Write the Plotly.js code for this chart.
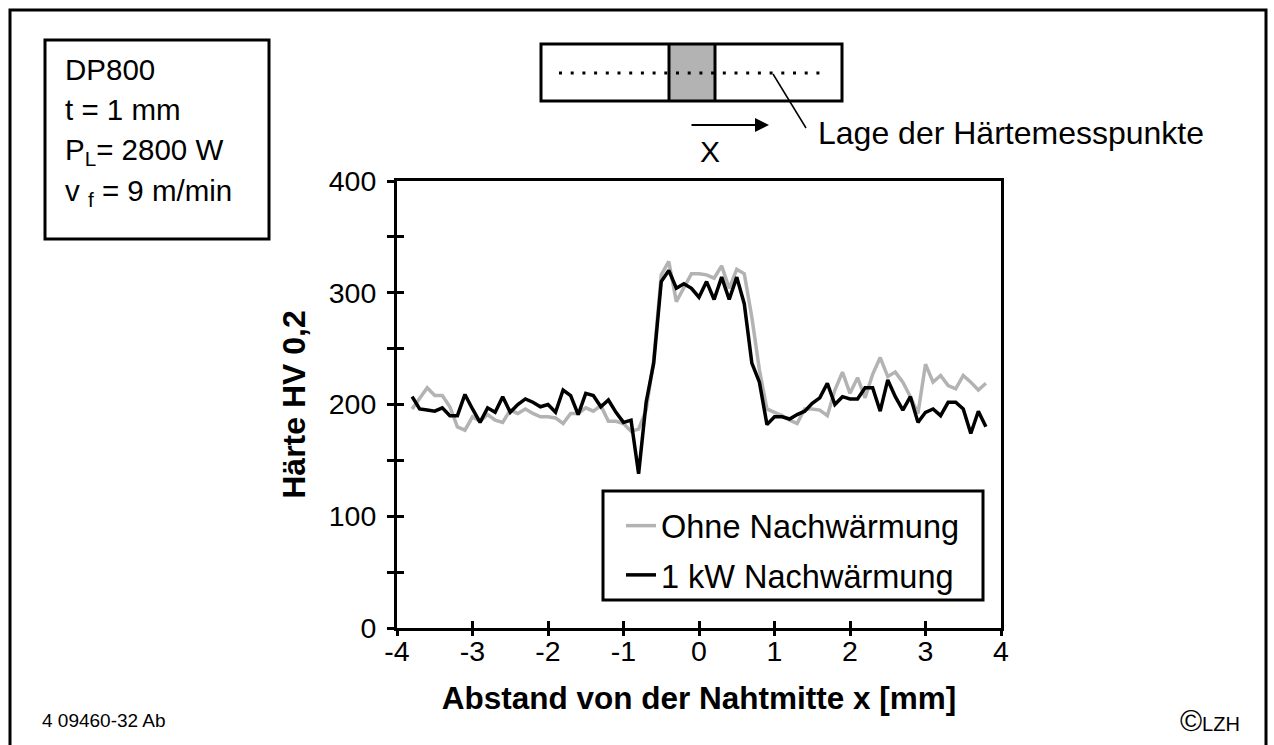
<!DOCTYPE html>
<html>
<head>
<meta charset="utf-8">
<script src="https://cdn.plot.ly/plotly-3.0.1.min.js"></script>
<style>html,body{margin:0;padding:0;background:#fff;}#chart{width:1274px;height:745px;}</style>
</head>
<body>
<div id="chart"></div>
<script>
// ---- data ----
const xPositions = [-3.8,-3.7,-3.6,-3.5,-3.4,-3.3,-3.2,-3.1,-3.0,-2.9,-2.8,-2.7,-2.6,-2.5,-2.4,-2.3,-2.2,-2.1,-2.0,-1.9,-1.8,-1.7,-1.6,-1.5,-1.4,-1.3,-1.2,-1.1,-1.0,-0.9,-0.8,-0.7,-0.6,-0.5,-0.4,-0.3,-0.2,-0.1,0.0,0.1,0.2,0.3,0.4,0.5,0.6,0.7,0.8,0.9,1.0,1.1,1.2,1.3,1.4,1.5,1.6,1.7,1.8,1.9,2.0,2.1,2.2,2.3,2.4,2.5,2.6,2.7,2.8,2.9,3.0,3.1,3.2,3.3,3.4,3.5,3.6,3.7,3.8];
const ohneNachwaermung = [196,205,215,208,208,198,180,177,189,185,191,186,184,195,192,196,192,189,189,188,183,192,192,197,194,199,185,185,183,176,178,195,240,316,328,292,305,317,317,316,313,324,304,321,317,278,231,196,193,190,186,183,196,196,195,190,213,229,210,224,206,227,242,225,229,220,207,192,236,220,226,217,214,226,220,213,219];
const einKwNachwaermung = [207,196,195,194,197,190,190,209,196,184,197,193,207,193,200,205,202,198,200,193,213,208,191,210,208,198,204,193,184,186,138,202,237,310,320,304,308,304,296,310,294,314,294,314,290,237,220,182,189,189,187,191,194,201,206,219,200,207,205,205,215,215,194,222,207,195,207,184,193,196,190,202,202,196,174,194,180];
const seriesNames = ["Ohne Nachwärmung", "1 kW Nachwärmung"];
const xTickVals = [-4,-3,-2,-1,0,1,2,3,4];
const xTickText = ["-4","-3","-2","-1","0","1","2","3","4"];
const yTickVals = [0,50,100,150,200,250,300,350,400];
const yTickText = ["0","","100","","200","","300","","400"];
const infoLines = ["DP800", "t = 1 mm", "P<sub>L</sub>= 2800 W", "v <sub>f</sub> = 9 m/min"];

// ---- layout helpers (pixel -> paper) ----
const PL = 397, PR = 1001, PT = 181, PB = 628;
const X = px => (px - PL) / (PR - PL);
const Y = py => (PB - py) / (PB - PT);
const FONT = "Liberation Sans, Arial, sans-serif";

const traces = [
  {x: xPositions, y: ohneNachwaermung, name: seriesNames[0], type: "scatter", mode: "lines",
   line: {color: "#b3b3b3", width: 3.5}, legendgroup: "a"},
  {x: xPositions, y: einKwNachwaermung, name: seriesNames[1], type: "scatter", mode: "lines",
   line: {color: "#000000", width: 3.5}, legendgroup: "b"},
  {x: [], y: [], xaxis: "x2", yaxis: "y2", showlegend: false, hoverinfo: "skip"}
];

const shapes = [
  // outer frame
  {type: "rect", xref: "paper", yref: "paper", x0: X(10), x1: X(1266), y0: Y(10), y1: Y(770), line: {color: "#000", width: 3}},
  // info box
  {type: "rect", xref: "paper", yref: "paper", x0: X(45), x1: X(269), y0: Y(40), y1: Y(239), line: {color: "#000", width: 3}},
  // legend box
  {type: "rect", xref: "paper", yref: "paper", x0: X(603), x1: X(983), y0: Y(491), y1: Y(600), fillcolor: "#fff", line: {color: "#000", width: 3}, layer: "above"},
  // seam sketch
  {type: "rect", xref: "paper", yref: "paper", x0: X(669), x1: X(715), y0: Y(44), y1: Y(101), fillcolor: "#b3b3b3", line: {width: 0}},
  {type: "rect", xref: "paper", yref: "paper", x0: X(541), x1: X(842), y0: Y(44), y1: Y(101), line: {color: "#000", width: 3}},
  {type: "line", xref: "paper", yref: "paper", x0: X(669), x1: X(669), y0: Y(44), y1: Y(101), line: {color: "#000", width: 3}},
  {type: "line", xref: "paper", yref: "paper", x0: X(715), x1: X(715), y0: Y(44), y1: Y(101), line: {color: "#000", width: 3}},
  {type: "line", xref: "paper", yref: "paper", x0: X(559), x1: X(821), y0: Y(73), y1: Y(73), line: {color: "#000", width: 3, dash: "3px,8.7px"}},
  {type: "line", xref: "paper", yref: "paper", x0: X(773), x1: X(806), y0: Y(74), y1: Y(128), line: {color: "#000", width: 1.5}}
];

const annotations = [];
const infoY = [69, 109, 151, 192];
infoLines.forEach((t, i) => annotations.push({xref: "paper", yref: "paper", x: X(63), y: Y(infoY[i]), xanchor: "left", yanchor: "middle",
  text: t, showarrow: false, font: {family: FONT, size: 29.5, color: "#000"}}));
annotations.push(
  {xref: "paper", yref: "paper", x: X(769), y: Y(125), ax: X(690), ay: Y(125), axref: "paper", ayref: "paper",
   text: "", showarrow: true, arrowhead: 2, arrowsize: 1.4, arrowwidth: 2, arrowcolor: "#000"},
  {xref: "paper", yref: "paper", x: X(710), y: Y(152), xanchor: "center", yanchor: "middle", text: "X", showarrow: false,
   font: {family: FONT, size: 30, color: "#000"}},
  {xref: "paper", yref: "paper", x: X(816), y: Y(133), xanchor: "left", yanchor: "middle", text: "Lage der Härtemesspunkte", showarrow: false,
   font: {family: FONT, size: 32, color: "#000"}},
  {xref: "paper", yref: "paper", x: X(40), y: Y(720), xanchor: "left", yanchor: "middle", text: "4 09460-32 Ab", showarrow: false,
   font: {family: FONT, size: 19, color: "#000"}},
  {xref: "paper", yref: "paper", x: X(1178), y: Y(720), xanchor: "left", yanchor: "middle", text: "<span style='font-size:30px'>©</span>LZH", showarrow: false,
   font: {family: FONT, size: 20, color: "#000"}}
);

const layout = {
  width: 1274, height: 745,
  margin: {l: PL, r: 1274 - PR, t: PT, b: 745 - PB, pad: 0},
  paper_bgcolor: "#fff", plot_bgcolor: "#fff",
  font: {family: FONT, color: "#000"},
  showlegend: true,
  legend: {x: X(621), y: Y(498), xanchor: "left", yanchor: "top", bgcolor: "rgba(0,0,0,0)", borderwidth: 0,
           font: {family: FONT, size: 32.5, color: "#000"}, tracegroupgap: 4, itemwidth: 30},
  xaxis: {range: [-4, 4], tickmode: "array", tickvals: xTickVals, ticktext: xTickText, ticks: "inside", ticklen: 7, tickwidth: 3,
          tickcolor: "#000", showline: true, linewidth: 3, linecolor: "#000", mirror: true, showgrid: false, zeroline: false,
          tickfont: {family: FONT, size: 28.5, color: "#000"}, ticklabelstandoff: -4,
          title: {text: "<b>Abstand von der Nahtmitte x [mm]</b>", font: {family: FONT, size: 31.5, color: "#000"}, standoff: 21}},
  yaxis: {range: [0, 400], tickmode: "array", tickvals: yTickVals, ticktext: yTickText, ticks: "outside", ticklen: 7, tickwidth: 3,
          tickcolor: "#000", showline: true, linewidth: 3, linecolor: "#000", mirror: true, showgrid: false, zeroline: false,
          tickfont: {family: FONT, size: 28.5, color: "#000"}, ticklabelstandoff: 5,
          title: {text: "<b>Härte HV 0,2</b>", font: {family: FONT, size: 32, color: "#000"}, standoff: 14}},
  xaxis2: {overlaying: "x", anchor: "y", range: [-4, 4], tickmode: "array", tickvals: xTickVals, ticks: "outside", ticklen: 7, tickwidth: 3,
           tickcolor: "#000", showticklabels: false, showline: false, showgrid: false, zeroline: false},
  yaxis2: {overlaying: "y", anchor: "x", range: [0, 400], tickmode: "array", tickvals: yTickVals, ticks: "inside", ticklen: 7, tickwidth: 3,
           tickcolor: "#000", showticklabels: false, showline: false, showgrid: false, zeroline: false},
  shapes: shapes,
  annotations: annotations
};

Plotly.newPlot("chart", traces, layout, {displayModeBar: false, staticPlot: true});
</script>
</body>
</html>
